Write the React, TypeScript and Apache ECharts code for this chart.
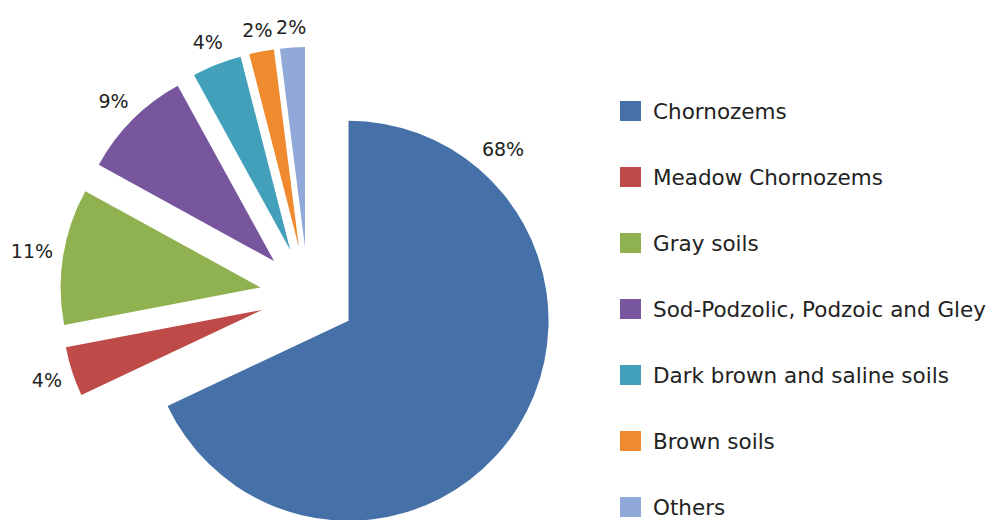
import React, { useEffect, useRef } from "react";
import * as echarts from "echarts";

const categories = [
  "Chornozems",
  "Meadow Chornozems",
  "Gray soils",
  "Sod-Podzolic, Podzoic and Gley",
  "Dark brown and saline soils",
  "Brown soils",
  "Others",
];
const values = [68, 4, 11, 9, 4, 2, 2];
const colors = ["#4571A8", "#BE4B48", "#90B150", "#77569D", "#42A0BA", "#F08A2F", "#91A9D8"];

// layout settings
const CX = 308;
const CY = 295;
const R = 200;
const EXPLODE = 48;
const LABEL_GAP = 9;
const LABEL_FONT = 19;
const LABEL_ANGLE_OVERRIDE: Record<number, number> = { 0: 42 };

export default function App() {
  const ref = useRef<HTMLDivElement>(null);
  useEffect(() => {
    if (!ref.current) return;
    const chart = echarts.init(ref.current, null, { renderer: "svg" });
    const total = values.reduce((a, b) => a + b, 0);
    const mids: number[] = [];
    let cum = 0;
    values.forEach((v) => {
      mids.push(((cum + v / 2) / total) * 360);
      cum += v;
    });
    const rad = (d: number) => (d * Math.PI) / 180;

    const labels = values.map((v, i) => {
      const text = `${Math.round((v / total) * 100)}%`;
      const w = ((text.length - 1) * 0.636 + 0.95) * LABEL_FONT;
      const h = LABEL_FONT * 1.1;
      const m = rad(mids[i]);
      const sx = CX + EXPLODE * Math.sin(m);
      const sy = CY - EXPLODE * Math.cos(m);
      const la = rad(LABEL_ANGLE_OVERRIDE[i] ?? mids[i]);
      const d = R + LABEL_GAP + (Math.abs(Math.sin(la)) * w) / 2 + (Math.abs(Math.cos(la)) * h) / 2;
      return {
        type: "text",
        x: sx + d * Math.sin(la),
        y: sy - d * Math.cos(la),
        z: 10,
        style: {
          text,
          fontFamily: "DejaVu Sans",
          fontSize: LABEL_FONT,
          fill: "#222222",
          align: "center",
          verticalAlign: "middle",
          textAlign: "center",
          textVerticalAlign: "middle",
        },
      };
    });

    chart.setOption({
      animation: false,
      backgroundColor: "#ffffff",
      legend: {
        type: "plain",
        orient: "vertical",
        left: 620,
        top: 100,
        height: 440,
        padding: 0,
        itemWidth: 21,
        itemHeight: 20,
        itemGap: 44,
        icon: "rect",
        selectedMode: false,
        data: categories,
        textStyle: {
          fontFamily: "DejaVu Sans",
          fontSize: 21.5,
          lineHeight: 20,
          color: "#222222",
          padding: [0, 0, 0, 7],
        },
      },
      graphic: labels,
      series: [
        {
          type: "pie",
          center: [CX, CY],
          radius: R,
          startAngle: 90,
          clockwise: true,
          selectedMode: "multiple",
          selectedOffset: EXPLODE,
          itemStyle: { borderWidth: 0 },
          select: { itemStyle: { borderWidth: 0 } },
          emphasis: { disabled: true },
          label: { show: false },
          labelLine: { show: false },
          data: categories.map((name, i) => ({
            name,
            value: values[i],
            selected: true,
            itemStyle: { color: colors[i] },
          })),
        },
      ],
    });
    return () => chart.dispose();
  }, []);
  return (
    <div
      ref={ref}
      style={{ position: "fixed", left: 0, top: 0, width: 995, height: 520 }}
    />
  );
}
